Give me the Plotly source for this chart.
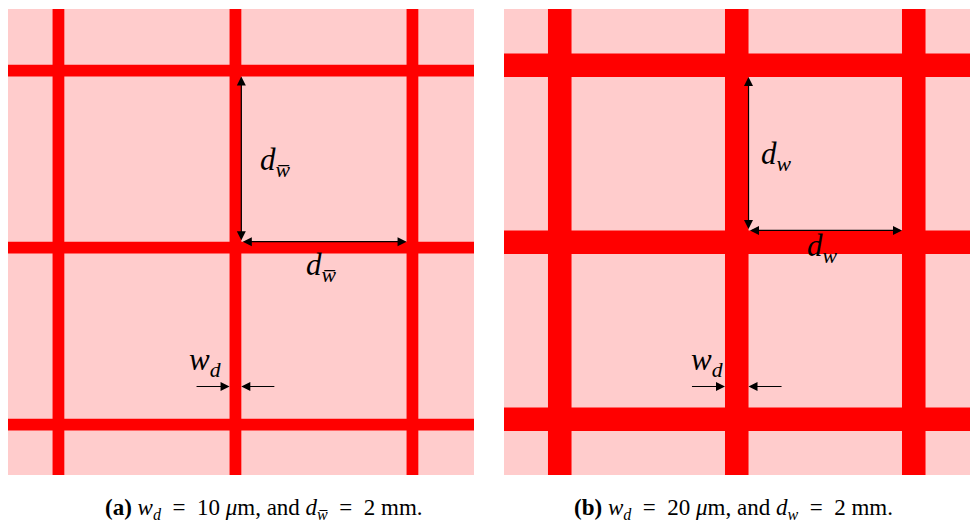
import plotly.graph_objects as go

# ---------------- data ----------------
panel_ids = ["a", "b"]
wd_um = [10, 20]                 # conductor line width w_d (micrometres)
pitch_mm = [2, 2]                # line pitch d (mm)
first_line_mm = [0.57, 0.63]     # position of the first grid line in the view (mm)
n_lines = [3, 3]
pitch_sub = ["w\u0305", "w"]     # subscript of the pitch symbol
caption_val = ["10", "20"]

# ---------------- style / layout ----------------
VIEW_MM = 5.2655                 # size of each square view (mm)
WIDTH_EXAG = 13.3                # visual exaggeration of line widths
PINK = "#FFCCCC"
RED = "#FF0000"
FONT = "Liberation Serif"
W, H = 972, 523
x_domains = [[8 / W, 474 / W], [504 / W, 970 / W]]
y_domain = [48 / H, 514 / H]
caption_x_px = [264, 733]
EQ = "\u2002=\u2002"

fig = go.Figure()
layout_axes = {}
for i, pid in enumerate(panel_ids):
    sfx = "" if i == 0 else str(i + 1)
    xr, yr = "x" + sfx, "y" + sfx
    layout_axes["xaxis" + sfx] = dict(domain=x_domains[i], range=[0, VIEW_MM], visible=False,
                                      fixedrange=True, anchor=yr)
    layout_axes["yaxis" + sfx] = dict(domain=y_domain, range=[0, VIEW_MM], visible=False,
                                      fixedrange=True, anchor=xr)
    fig.add_trace(go.Scatter(x=[], y=[], xaxis=xr, yaxis=yr, showlegend=False))

    # background (substrate)
    fig.add_shape(type="rect", xref=xr, yref=yr, x0=0, x1=VIEW_MM, y0=0, y1=VIEW_MM,
                  fillcolor=PINK, line=dict(width=0), layer="below")

    w = wd_um[i] / 1000 * WIDTH_EXAG
    d = pitch_mm[i]
    centers = [first_line_mm[i] + k * d for k in range(n_lines[i])]
    for c in centers:
        fig.add_shape(type="rect", xref=xr, yref=yr, x0=c - w / 2, x1=c + w / 2, y0=0, y1=VIEW_MM,
                      fillcolor=RED, line=dict(width=0), layer="below")
        fig.add_shape(type="rect", xref=xr, yref=yr, y0=c - w / 2, y1=c + w / 2, x0=0, x1=VIEW_MM,
                      fillcolor=RED, line=dict(width=0), layer="below")

    c1 = centers[1]
    arrow_kw = dict(xref=xr, yref=yr, axref=xr, ayref=yr, text="", showarrow=True,
                    arrowhead=2, arrowsize=1.5, arrowwidth=1.2, arrowcolor="black",
                    standoff=0, startstandoff=0, startarrowhead=2, startarrowsize=1.5)
    # vertical pitch arrow
    fig.add_annotation(x=c1 + w / 2, y=c1 + d - w / 2, ax=c1 + w / 2, ay=c1 + w / 2,
                       arrowside="end+start", **arrow_kw)
    # horizontal pitch arrow
    fig.add_annotation(x=c1 + d - w / 2, y=c1 + w / 2, ax=c1 + w / 2, ay=c1 + w / 2,
                       arrowside="end+start", **arrow_kw)
    # width arrows
    ya = 1.0
    L = 0.39
    fig.add_annotation(x=c1 - w / 2, y=ya, ax=c1 - w / 2 - L, ay=ya, arrowside="end", **arrow_kw)
    fig.add_annotation(x=c1 + w / 2, y=ya, ax=c1 + w / 2 + L, ay=ya, arrowside="end", **arrow_kw)

    lab_font = dict(family=FONT, size=31, color="black")
    dlabel = "<i>d</i><sub><i>%s</i></sub>" % pitch_sub[i]
    fig.add_annotation(x=c1 + 0.45, y=c1 + d / 2 - 0.03, xref=xr, yref=yr, text=dlabel,
                       showarrow=False, font=lab_font)
    fig.add_annotation(x=c1 + d / 2 - 0.03, y=c1 - (0.22 if i == 0 else 0.06), xref=xr, yref=yr,
                       text=dlabel, showarrow=False, font=lab_font)
    fig.add_annotation(x=c1 - 0.34, y=1.28, xref=xr, yref=yr, text="<i>w</i><sub><i>d</i></sub>",
                       showarrow=False, font=lab_font)

    cap = ("<b>(%s)</b> <i>w</i><sub><i>d</i></sub>%s%s <i>\u03bc</i>m, and "
           "<i>d</i><sub><i>%s</i></sub>%s%d mm.") % (pid, EQ, caption_val[i], pitch_sub[i], EQ,
                                                     pitch_mm[i])
    fig.add_annotation(x=caption_x_px[i] / W, y=14 / H, xanchor="center",
                       xref="paper", yref="paper", text=cap, showarrow=False,
                       font=dict(family=FONT, size=23, color="black"), yanchor="middle")

fig.update_layout(width=W, height=H, margin=dict(l=0, r=0, t=0, b=0),
                  paper_bgcolor="white", plot_bgcolor="white", showlegend=False, **layout_axes)
fig.write_html("out.html", config={"displayModeBar": False},
               post_script="document.body.style.margin='0px';document.body.style.overflow='hidden';")
